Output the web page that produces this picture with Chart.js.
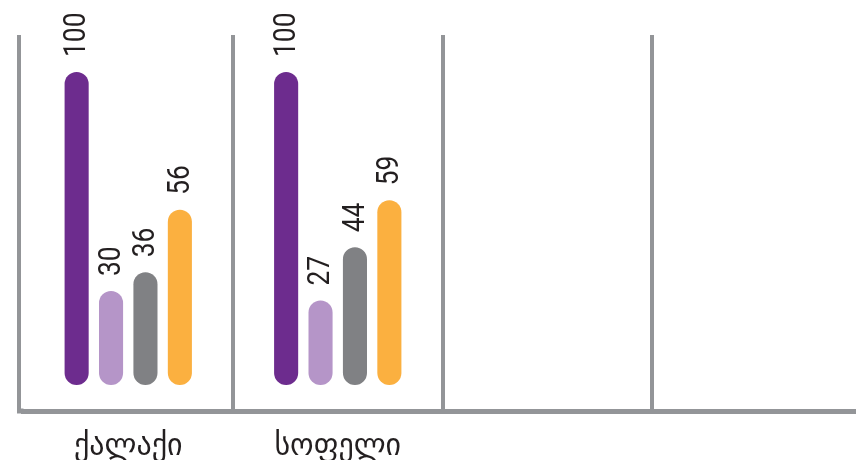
<!DOCTYPE html>
<html>
<head>
<meta charset="utf-8">
<script src="https://cdn.jsdelivr.net/npm/chart.js@4/dist/chart.umd.min.js"></script>
<style>
  html, body { margin: 0; padding: 0; background: #fff; overflow: hidden; }
  #view { width: 856px; height: 460px; overflow: hidden; }
  #wrap { width: 864px; height: 460px; position: relative; }
</style>
</head>
<body>
<div id="view"><div id="wrap"><canvas id="grafik"></canvas></div></div>
<script>
// categories (last two slots are empty in the original)
const categories = ['ქალაქი', 'სოფელი', '', ''];

// series values
const seriesA = [100, 100, null, null];
const seriesB = [30, 27, null, null];
const seriesC = [36, 44, null, null];
const seriesD = [56, 59, null, null];

const colors = ['#6d2c8e', '#b595c8', '#808184', '#fbb040'];
const gridGray = '#939598';

// left frame line, sits a little outside the plot area like the original
const frameLine = {
    id: 'frameLine',
    beforeDatasetsDraw(chart) {
        const { ctx, chartArea } = chart;
        const x = chartArea.left - 4.5;
        ctx.save();
        ctx.strokeStyle = gridGray;
        ctx.lineWidth = 4;
        ctx.beginPath();
        ctx.moveTo(x, chartArea.top);
        ctx.lineTo(x, chartArea.bottom);
        ctx.stroke();
        ctx.lineWidth = 5;
        ctx.beginPath();
        ctx.moveTo(x - 2, chartArea.bottom);
        ctx.lineTo(chartArea.left, chartArea.bottom);
        ctx.stroke();
        ctx.restore();
    }
};

// rotated value labels above each bar (condensed by squeezing the text)
const valueLabels = {
    id: 'valueLabels',
    afterDatasetsDraw(chart) {
        const ctx = chart.ctx;
        ctx.save();
        ctx.font = '31px Roboto, "DejaVu Sans", sans-serif';
        ctx.fillStyle = '#231f20';
        ctx.textAlign = 'left';
        ctx.textBaseline = 'middle';
        chart.data.datasets.forEach((ds, i) => {
            const meta = chart.getDatasetMeta(i);
            meta.data.forEach((bar, j) => {
                const v = ds.data[j];
                if (v === null || v === undefined) return;
                ctx.save();
                ctx.translate(bar.x, bar.y - 15);
                ctx.rotate(-Math.PI / 2);
                ctx.scale(0.85, 1);
                ctx.fillText(String(v), 0, 1);
                ctx.restore();
            });
        });
        ctx.restore();
    }
};

const mkSet = (data, color) => ({
    data: data,
    backgroundColor: color,
    borderRadius: 12,
    borderSkipped: false
});

new Chart(document.getElementById('grafik'), {
    type: 'bar',
    data: {
        labels: categories,
        datasets: [
            mkSet(seriesA, colors[0]),
            mkSet(seriesB, colors[1]),
            mkSet(seriesC, colors[2]),
            mkSet(seriesD, colors[3])
        ]
    },
    options: {
        responsive: true,
        maintainAspectRatio: false,
        animation: false,
        layout: { padding: { top: 35, left: 23.5, right: 2.5, bottom: 0 } },
        plugins: {
            legend: { display: false },
            tooltip: { enabled: false }
        },
        datasets: {
            bar: { categoryPercentage: 0.657, barPercentage: 0.7 }
        },
        scales: {
            x: {
                offset: true,
                grid: {
                    offset: true,
                    drawTicks: false,
                    lineWidth: 4,
                    color: c => (c.index === undefined || c.index === 0 ? 'rgba(0,0,0,0)' : gridGray)
                },
                border: { display: true, color: gridGray, width: 5 },
                ticks: {
                    color: '#231f20',
                    padding: 18,
                    font: { family: '"DejaVu Sans"', size: 30 }
                },
                afterFit: scale => { scale.height = 49; }
            },
            y: {
                display: false,
                min: -8.3,
                max: 111.8
            }
        }
    },
    plugins: [frameLine, valueLabels]
});
</script>
</body>
</html>
